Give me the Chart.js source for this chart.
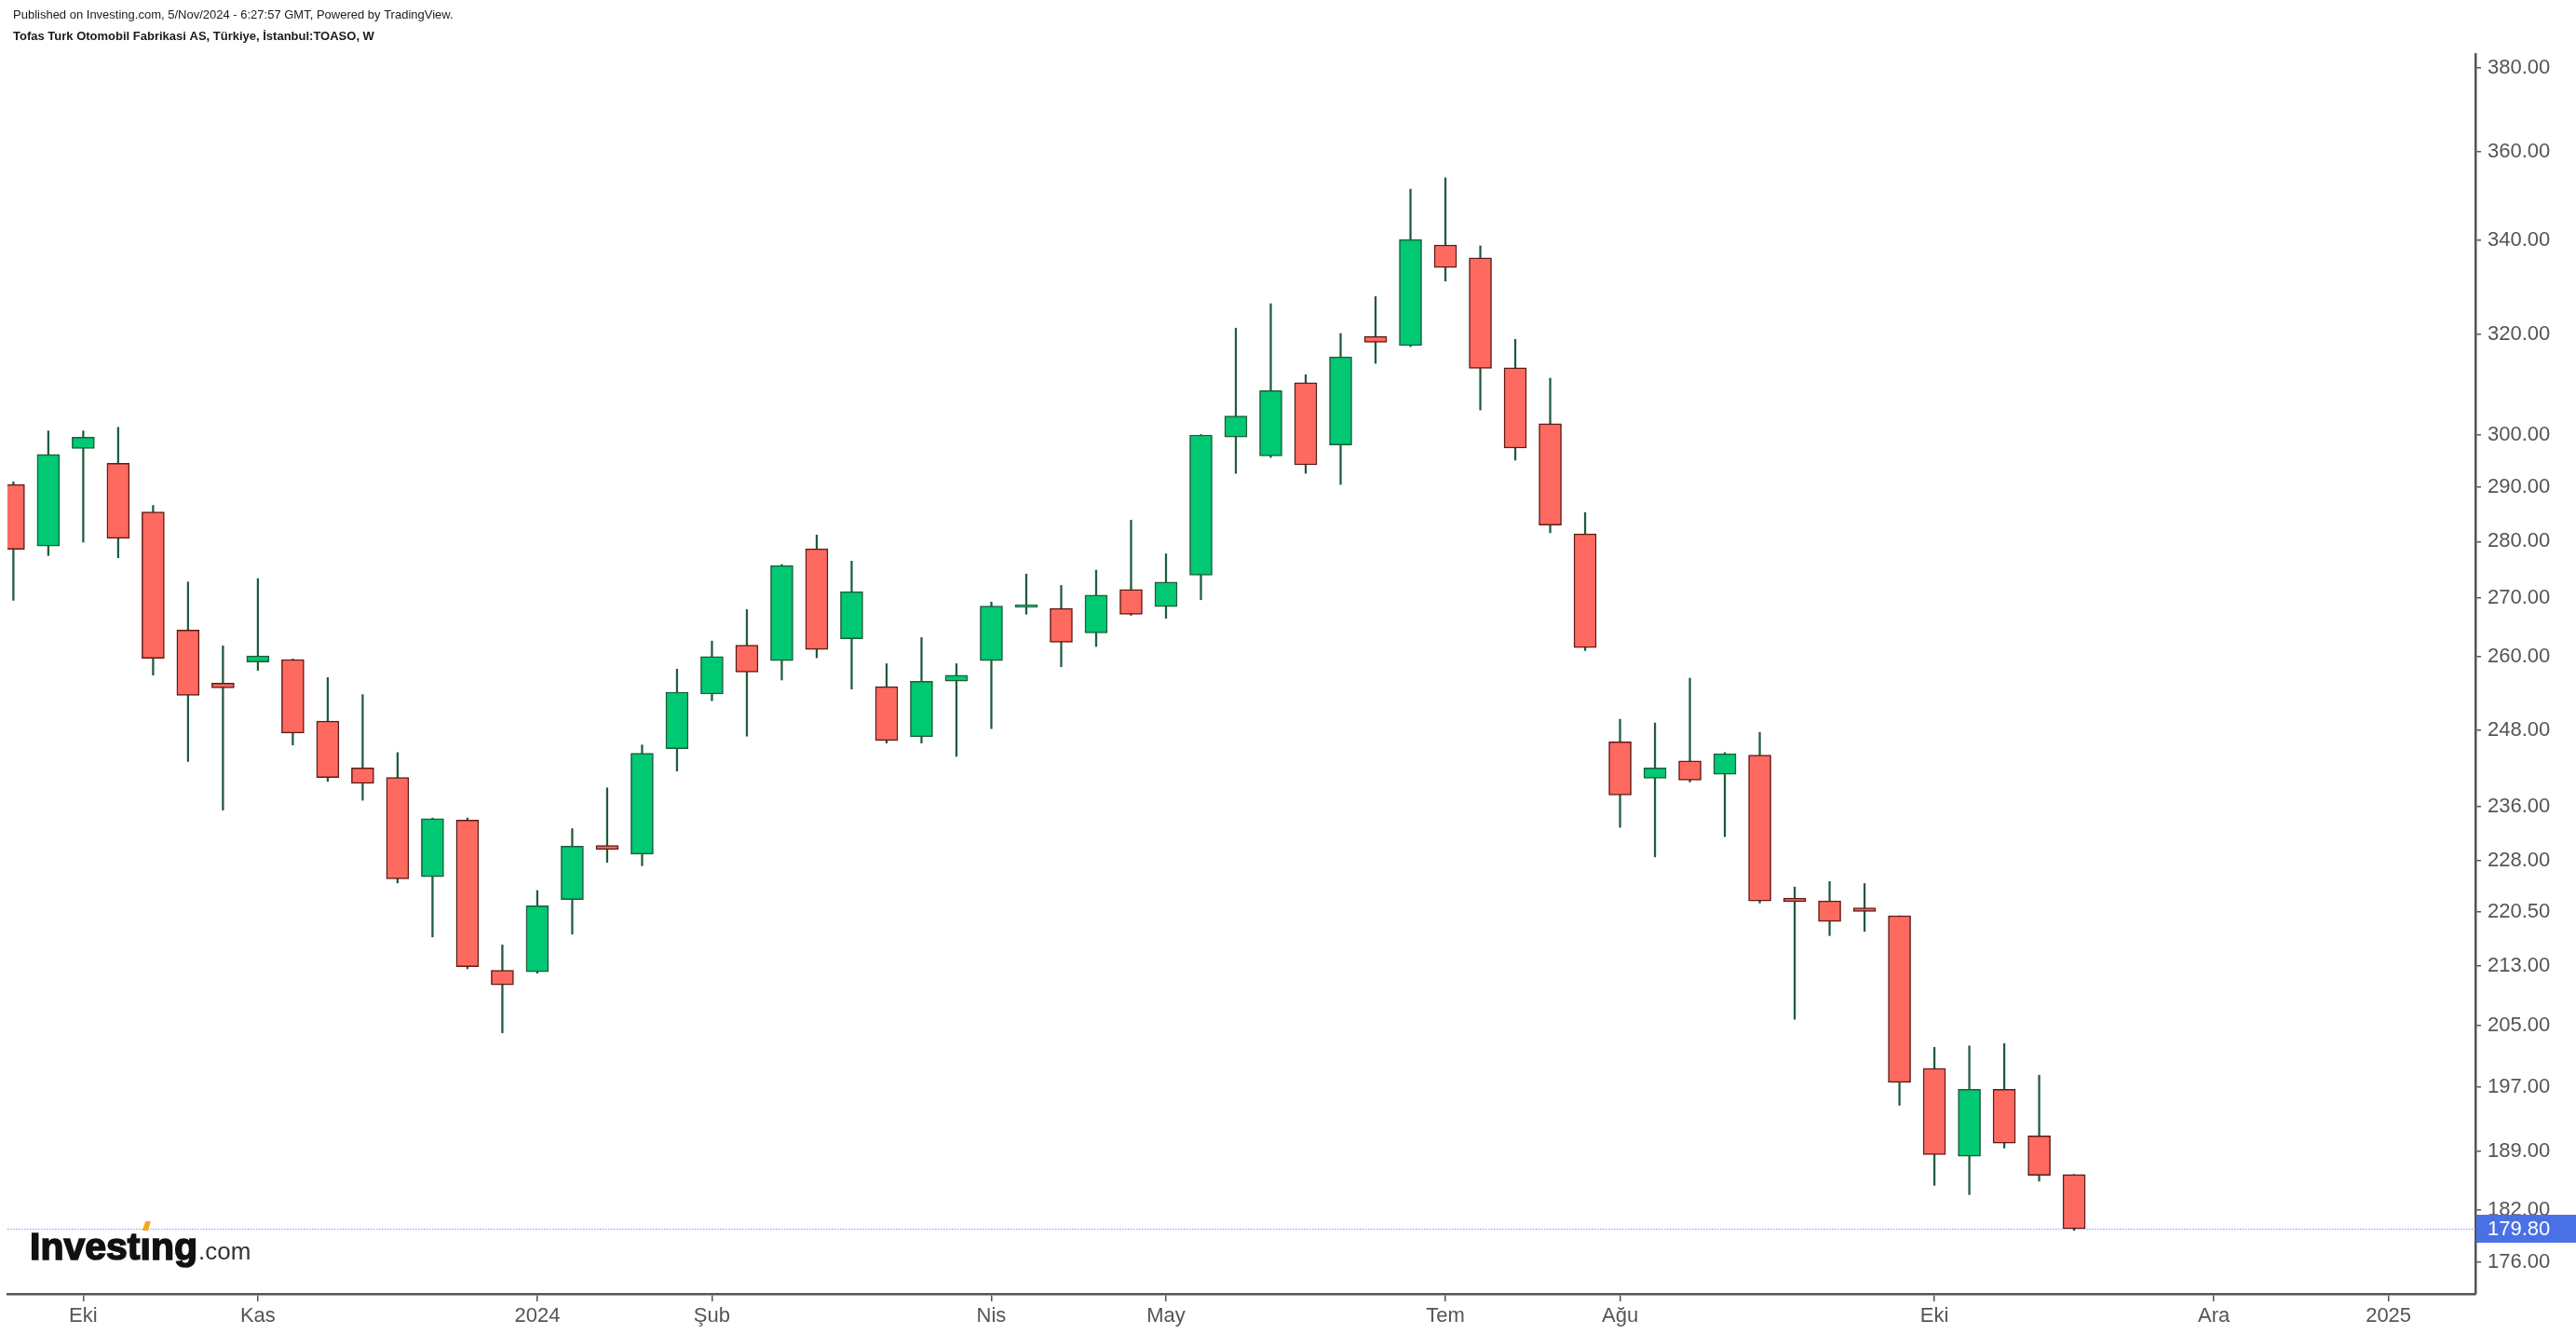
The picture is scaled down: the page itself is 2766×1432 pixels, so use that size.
<!DOCTYPE html>
<html>
<head>
<meta charset="utf-8">
<script src="https://cdn.jsdelivr.net/npm/chart.js@4.4.1/dist/chart.umd.min.js"></script>
<style>
  html, body { margin: 0; padding: 0; background: #fff; }
  #wrap { width: 2766px; height: 1432px; }
</style>
</head>
<body>
<div id="wrap"><canvas id="chart" width="2766" height="1432"></canvas></div>
<script>
// TOASO weekly candles (week start dates)
const weeks = [
  '2023-09-18', '2023-09-25', '2023-10-02', '2023-10-09', '2023-10-16', '2023-10-23', '2023-10-30', '2023-11-06',
  '2023-11-13', '2023-11-20', '2023-11-27', '2023-12-04', '2023-12-11', '2023-12-18', '2023-12-25',
  '2024-01-01', '2024-01-08', '2024-01-15', '2024-01-22', '2024-01-29', '2024-02-05', '2024-02-12', '2024-02-19',
  '2024-02-26', '2024-03-04', '2024-03-11', '2024-03-18', '2024-03-25', '2024-04-01', '2024-04-08',
  '2024-04-15', '2024-04-22', '2024-04-29', '2024-05-06', '2024-05-13', '2024-05-20', '2024-05-27', '2024-06-03',
  '2024-06-10', '2024-06-17', '2024-06-24', '2024-07-01', '2024-07-08', '2024-07-15', '2024-07-22',
  '2024-07-29', '2024-08-05', '2024-08-12', '2024-08-19', '2024-08-26', '2024-09-02', '2024-09-09', '2024-09-16',
  '2024-09-23', '2024-09-30', '2024-10-07', '2024-10-14', '2024-10-21', '2024-10-28', '2024-11-04'
];

const opens = [
  290.5, 279.2, 297.3, 294.5, 285.4, 264.5, 255.6, 259.1, 259.5, 249.4, 242.0, 240.5, 225.6, 234.0, 212.4,
  212.2, 222.3, 230.2, 228.9, 245.0, 253.8, 261.9, 259.3, 278.7, 263.0, 255.0, 246.9, 255.9, 259.3, 268.4,
  268.2, 264.0, 271.5, 268.5, 274.0, 299.5, 295.9, 310.2, 298.0, 319.6, 317.7, 339.0, 336.2, 313.2, 302.1,
  281.4, 246.1, 240.4, 243.1, 241.0, 244.0, 222.5, 222.1, 221.1, 220.0, 199.4, 188.4, 196.7, 190.9, 186.2
];
const highs = [
  291.0, 300.7, 300.7, 301.4, 286.6, 272.8, 261.8, 273.4, 259.6, 256.5, 253.7, 244.4, 234.3, 234.3, 215.9,
  223.6, 232.7, 238.9, 245.6, 257.9, 262.6, 268.0, 275.9, 281.2, 276.5, 258.8, 263.2, 258.8, 269.3, 274.2,
  272.2, 274.9, 283.9, 277.8, 300.0, 321.3, 326.4, 311.8, 320.2, 327.9, 351.4, 354.0, 338.8, 319.0, 311.1,
  285.3, 249.7, 249.1, 256.4, 244.4, 247.6, 224.1, 224.9, 224.6, 220.0, 202.1, 202.3, 202.6, 198.5, 186.2
];
const lows = [
  269.6, 277.5, 279.9, 277.1, 256.9, 243.0, 235.5, 257.7, 245.6, 239.9, 237.0, 224.7, 217.0, 212.6, 204.0,
  212.0, 217.4, 227.7, 227.2, 241.5, 252.7, 247.0, 256.1, 259.8, 254.6, 245.9, 245.9, 243.8, 248.2, 267.2,
  258.3, 261.7, 267.0, 266.5, 269.7, 292.6, 295.6, 292.6, 290.5, 314.1, 317.5, 331.2, 304.8, 295.1, 281.6,
  261.0, 232.9, 228.5, 239.8, 231.5, 221.8, 205.8, 217.2, 217.8, 194.7, 184.9, 183.8, 189.4, 185.4, 179.6
];
const closes = [
  278.6, 296.2, 299.5, 280.6, 259.7, 253.6, 254.8, 260.1, 247.5, 240.5, 239.6, 225.3, 234.2, 212.9, 210.4,
  221.4, 230.1, 229.6, 244.3, 254.1, 260.0, 257.4, 275.7, 261.2, 271.1, 246.3, 255.9, 256.9, 268.6, 268.8,
  262.4, 270.5, 267.2, 272.8, 299.9, 303.6, 308.6, 294.2, 315.4, 318.4, 340.2, 334.1, 313.1, 297.4, 283.0,
  261.5, 237.8, 242.0, 240.1, 244.2, 222.1, 222.0, 219.2, 220.6, 197.6, 188.6, 196.7, 190.0, 186.1, 179.8
];

const lastPrice = 179.80;
const priceTicks = [176, 182, 189, 197, 205, 213, 220.5, 228, 236, 248, 260, 270, 280, 290, 300, 320, 340, 360, 380];
const monthTickDates = ['2023-10-02', '2023-11-06', '2024-01-01', '2024-02-05', '2024-04-01', '2024-05-06',
  '2024-07-01', '2024-08-05', '2024-10-07', '2024-12-02', '2025-01-06'];
const monthTickLabels = ['Eki', 'Kas', '2024', 'Şub', 'Nis', 'May', 'Tem', 'Ağu', 'Eki', 'Ara', '2025'];

const FONT = "'Liberation Sans', Arial, Helvetica, sans-serif";
const upColor = '#00c873', upBorder = '#1d5c3b';
const downColor = '#ff6a60', downBorder = '#5e1b17';
const wickColor = '#1f5b3c';
const axisColor = '#555555';

// x position = week number counted from the first candle
const weekMs = 7 * 24 * 3600 * 1000;
const origin = Date.parse(weeks[0]);
const weekIndex = d => Math.round((Date.parse(d) - origin) / weekMs);
const xs = weeks.map(weekIndex);
const tickXs = monthTickDates.map(weekIndex);
const isUp = xs.map((x, i) => closes[i] >= opens[i]);

// Extra drawing: header texts, logo, last price line and badge
const decor = {
  id: 'decor',
  beforeDatasetsDraw(chart) {
    const { ctx, chartArea, scales } = chart;
    const y = Math.round(scales.y.getPixelForValue(lastPrice)) + 0.5;
    ctx.save();
    ctx.strokeStyle = 'rgba(80, 115, 235, 0.55)';
    ctx.lineWidth = 1.5;
    ctx.setLineDash([1.5, 1.5]);
    ctx.beginPath();
    ctx.moveTo(chartArea.left, y);
    ctx.lineTo(chartArea.right, y);
    ctx.stroke();
    ctx.restore();
  },
  afterDraw(chart) {
    const { ctx, chartArea, scales } = chart;
    ctx.save();

    // header
    ctx.fillStyle = '#1a1a1a';
    ctx.textBaseline = 'middle';
    ctx.textAlign = 'left';
    ctx.font = '13px ' + FONT;
    ctx.fillText('Published on Investing.com, 5/Nov/2024 - 6:27:57 GMT, Powered by TradingView.', 14, 16);
    ctx.font = 'bold 13px ' + FONT;
    ctx.fillText('Tofas Turk Otomobil Fabrikasi AS, Türkiye, İstanbul:TOASO, W', 14, 39);

    // logo
    const lx = 32, ly = 1352;
    ctx.textBaseline = 'alphabetic';
    ctx.font = 'bold 41px ' + FONT;
    ctx.fillStyle = '#111111';
    ctx.strokeStyle = '#111111';
    ctx.lineWidth = 1.6;
    const part = (t, x) => { ctx.fillText(t, x, ly); ctx.strokeText(t, x, ly); return ctx.measureText(t).width; };
    let cx = lx;
    cx += part('Invest', cx);
    const iw = part('ı', cx);
    // orange accent as the dot of the i
    ctx.fillStyle = '#f5a623';
    ctx.beginPath();
    ctx.moveTo(cx + iw * 0.2, ly - 31);
    ctx.lineTo(cx + iw * 0.75, ly - 31);
    ctx.lineTo(cx + iw * 1.0, ly - 41);
    ctx.lineTo(cx + iw * 0.5, ly - 41);
    ctx.closePath();
    ctx.fill();
    ctx.fillStyle = '#111111';
    cx += iw;
    cx += part('ng', cx);
    ctx.font = '26px ' + FONT;
    ctx.fillStyle = '#333333';
    ctx.fillText('.com', cx + 1, ly);

    // last price badge
    const py = scales.y.getPixelForValue(lastPrice);
    ctx.fillStyle = '#4a70e6';
    ctx.fillRect(chartArea.right + 1, py - 15, chart.width - chartArea.right - 1, 30);
    ctx.fillStyle = '#ffffff';
    ctx.font = '22px ' + FONT;
    ctx.textBaseline = 'middle';
    ctx.fillText(lastPrice.toFixed(2), chartArea.right + 13, py + 1);
    ctx.restore();
  }
};

new Chart(document.getElementById('chart'), {
  type: 'bar',
  data: {
    datasets: [
      {
        label: 'body',
        data: xs.map((x, i) => ({ x, y: [opens[i], closes[i]] })),
        backgroundColor: isUp.map(u => u ? upColor : downColor),
        borderColor: isUp.map(u => u ? upBorder : downBorder),
        borderWidth: 1.5,
        borderSkipped: false,
        barThickness: 24,
        grouped: false,
        clip: 0,
        order: 0
      },
      {
        label: 'wick',
        data: xs.map((x, i) => ({ x, y: [lows[i], highs[i]] })),
        backgroundColor: wickColor,
        borderWidth: 0,
        barThickness: 1.6,
        grouped: false,
        clip: 0,
        order: 1
      }
    ]
  },
  options: {
    responsive: false,
    animation: false,
    devicePixelRatio: 1,
    layout: { padding: { left: 8, top: 58, right: 0, bottom: 0 } },
    plugins: { legend: { display: false }, tooltip: { enabled: false } },
    scales: {
      x: {
        type: 'linear',
        min: -0.17,
        max: 70.49,
        offset: false,
        bounds: 'data',
        afterBuildTicks: s => { s.ticks = tickXs.map(v => ({ value: v })); },
        afterFit: s => { s.height = 43; },
        grid: { display: true, offset: false, drawOnChartArea: false, drawTicks: true, tickLength: 8, color: axisColor, lineWidth: 1.5 },
        border: { display: true, color: axisColor, width: 2.5 },
        ticks: {
          autoSkip: false, maxRotation: 0, padding: 3, color: axisColor,
          font: { family: FONT, size: 22 },
          callback: v => { const k = tickXs.indexOf(v); return k >= 0 ? monthTickLabels[k] : ''; }
        }
      },
      y: {
        type: 'logarithmic',
        position: 'right',
        min: 172.4,
        max: 383.4,
        bounds: 'data',
        afterBuildTicks: s => { s.ticks = priceTicks.map(v => ({ value: v })); },
        afterFit: s => { s.width = 108; },
        grid: { display: true, drawOnChartArea: false, drawTicks: true, tickLength: 6, color: axisColor, lineWidth: 1.5 },
        border: { display: true, color: axisColor, width: 2.5 },
        ticks: {
          autoSkip: false, padding: 7, color: axisColor,
          font: { family: FONT, size: 22 },
          callback: v => Number(v).toFixed(2)
        }
      }
    }
  },
  plugins: [decor]
});
</script>
</body>
</html>
